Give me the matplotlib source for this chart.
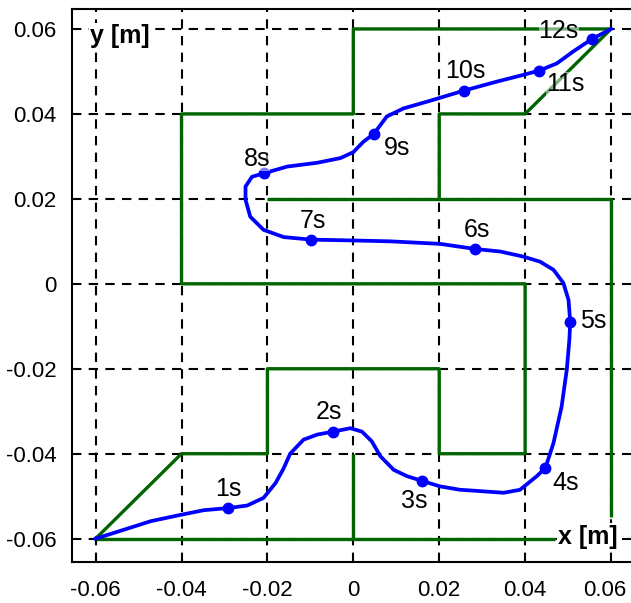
import matplotlib
matplotlib.use("Agg")
import matplotlib.pyplot as plt
import matplotlib.transforms as mtransforms

plt.rcParams['font.family'] = ['Liberation Sans', 'DejaVu Sans']

# maze walls (polylines)
wall_outer_x = [-0.06, -0.04, -0.02, -0.02, 0.02, 0.02, 0.04, 0.04, -0.04, -0.04, 0.0, 0.0, 0.06]
wall_outer_y = [-0.06, -0.04, -0.04, -0.02, -0.02, -0.04, -0.04, 0.0, 0.0, 0.04, 0.04, 0.06, 0.06]
wall_top_x = [0.06, 0.04, 0.02, 0.02]
wall_top_y = [0.06, 0.04, 0.04, 0.02]
wall_mid_x = [-0.02, 0.06, 0.06]
wall_mid_y = [0.02, 0.02, -0.055]
wall_bottom_x = [-0.06, 0.047]
wall_bottom_y = [-0.06, -0.06]
wall_stub_x = [0.0, 0.0]
wall_stub_y = [-0.06, -0.04]

# trajectory
path_x = [-0.0600, -0.0534, -0.0472, -0.0402, -0.0348, -0.0291, -0.0247, -0.0209,
          -0.0181, -0.0163, -0.0147, -0.0116, -0.0084, -0.0047, -0.0007, 0.0020,
          0.0043, 0.0063, 0.0094, 0.0125, 0.0160, 0.0202, 0.0249, 0.0280,
          0.0350, 0.0388, 0.0427, 0.0447, 0.0466, 0.0485, 0.0497, 0.0503,
          0.0505, 0.0501, 0.0489, 0.0466, 0.0435, 0.0396, 0.0342, 0.0284,
          0.0202, 0.0086, 0.0001, -0.0098, -0.0162, -0.0209, -0.0240, -0.0251,
          -0.0251, -0.0236, -0.0209, -0.0154, -0.0084, -0.0030, 0.0000, 0.0024,
          0.0047, 0.0078, 0.0117, 0.0179, 0.0258, 0.0334, 0.0396, 0.0433,
          0.0474, 0.0512, 0.0555, 0.0600]
path_y = [-0.0600, -0.0579, -0.0559, -0.0544, -0.0533, -0.0528, -0.0522, -0.0504,
          -0.0469, -0.0436, -0.0400, -0.0367, -0.0355, -0.0348, -0.0340, -0.0348,
          -0.0371, -0.0406, -0.0438, -0.0453, -0.0464, -0.0477, -0.0485, -0.0487,
          -0.0492, -0.0485, -0.0453, -0.0434, -0.0375, -0.0289, -0.0202, -0.0132,
          -0.0090, -0.0038, 0.0002, 0.0033, 0.0052, 0.0064, 0.0076, 0.0082,
          0.0094, 0.0100, 0.0102, 0.0104, 0.0110, 0.0127, 0.0158, 0.0198,
          0.0229, 0.0252, 0.0260, 0.0276, 0.0285, 0.0296, 0.0310, 0.0335,
          0.0352, 0.0394, 0.0413, 0.0431, 0.0455, 0.0476, 0.0492, 0.0502,
          0.0519, 0.0547, 0.0576, 0.0600]

# time marks
mark_x = [-0.0291, -0.0047, 0.0160, 0.0447, 0.0505, 0.0284, -0.0098, -0.0209,
          0.0047, 0.0258, 0.0433, 0.0555]
mark_y = [-0.0528, -0.0348, -0.0464, -0.0434, -0.0090, 0.0082, 0.0104, 0.0260,
          0.0352, 0.0455, 0.0502, 0.0576]
mark_labels = ['1s', '2s', '3s', '4s', '5s', '6s', '7s', '8s', '9s', '10s', '11s', '12s']
label_x = [-0.0291, -0.0057, 0.0142, 0.0495, 0.0559, 0.0288, -0.0095, -0.0225,
           0.0102, 0.0260, 0.0493, 0.0478]
label_y = [-0.0482, -0.0303, -0.0512, -0.0468, -0.0088, 0.0127, 0.0147, 0.0293,
           0.0320, 0.0502, 0.0471, 0.0596]

ticks = [-0.06, -0.04, -0.02, 0, 0.02, 0.04, 0.06]
tick_labels = ['-0.06', '-0.04', '-0.02', '0', '0.02', '0.04', '0.06']

fig = plt.figure(figsize=(6.31, 6.03), dpi=100)
ax = fig.add_axes([72 / 631, 41 / 603, 559 / 631, 553 / 603])
ax.set_xlim(-0.0655, 0.06465)
ax.set_ylim(-0.0655, 0.0647)

# dashed grid
for t in ticks:
    ax.axvline(t, color='black', lw=1.5, ls=(0, (4.5, 3.5)), zorder=1)
    ax.axhline(t, color='black', lw=1.5, ls=(0, (4.5, 3.5)), zorder=1)

green = '#006400'
for wx, wy in [(wall_outer_x, wall_outer_y), (wall_top_x, wall_top_y),
               (wall_mid_x, wall_mid_y), (wall_bottom_x, wall_bottom_y),
               (wall_stub_x, wall_stub_y)]:
    ax.plot(wx, wy, color=green, lw=2.4, solid_capstyle='butt', zorder=2)

ax.plot(path_x, path_y, color='blue', lw=2.7, solid_joinstyle='round', zorder=3)
ax.plot(mark_x, mark_y, 'o', color='blue', ms=7.5, zorder=4)

for lx, ly, s in zip(label_x, label_y, mark_labels):
    ax.text(lx, ly, s, fontsize=18, ha='center', va='center', zorder=5,
            bbox=dict(boxstyle='square,pad=0.0', fc='white', ec='none', alpha=0.5))

ax.text(-0.0612, 0.0584, 'y [m]', fontsize=18, fontweight='bold', ha='left',
        va='center', zorder=5,
        bbox=dict(boxstyle='square,pad=0.05', fc='white', ec='none'))
ax.text(0.0477, -0.0595, 'x [m]', fontsize=18, fontweight='bold', ha='left',
        va='center', zorder=5,
        bbox=dict(boxstyle='square,pad=0.05', fc='white', ec='none'))

ax.set_xticks(ticks)
ax.set_xticklabels(tick_labels)
ax.set_yticks(ticks)
ax.set_yticklabels(tick_labels)
ax.tick_params(axis='both', length=0, labelsize=16)
ax.tick_params(axis='x', pad=13)
ax.tick_params(axis='y', pad=11)
# the last x label sits a little left of its grid line, inside the figure
last = ax.get_xticklabels()[-1]
last.set_transform(last.get_transform() +
                   mtransforms.ScaledTranslation(-6 / 100, 0, fig.dpi_scale_trans))
for side in ['left', 'bottom', 'top']:
    ax.spines[side].set_linewidth(1.5)
ax.spines['right'].set_visible(False)

fig.savefig('out.png', dpi=100)
